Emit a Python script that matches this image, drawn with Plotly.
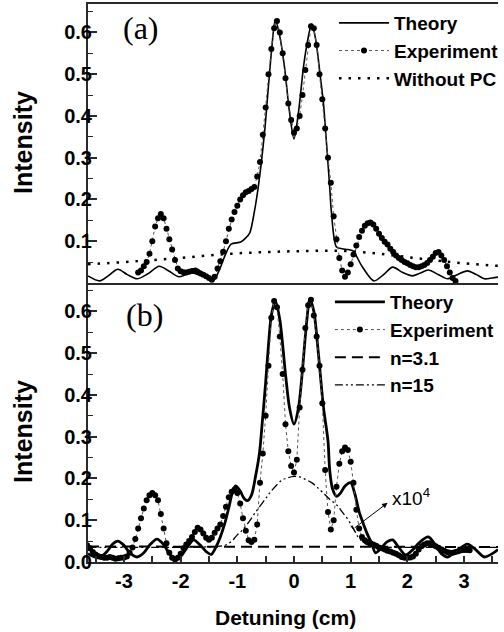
import plotly.graph_objects as go

# ---------------- panel (a) ----------------
theory_a_x = [-3.635, -3.43, -3.27, -3.11, -2.94, -2.77, -2.58, -2.38, -2.2, -2.03,
              -1.88, -1.74, -1.58, -1.43, -1.32, -1.22, -1.11, -0.94, -0.85, -0.78,
              -0.70, -0.63, -0.52, -0.47, -0.40, -0.33, -0.25, -0.17, -0.08, 0.0,
              0.08, 0.17, 0.24, 0.31, 0.38, 0.46, 0.52, 0.56, 0.63, 0.66,
              0.75, 0.85, 0.95, 1.04, 1.2, 1.41, 1.58, 1.74, 1.92, 2.09,
              2.23, 2.37, 2.55, 2.71, 2.88, 3.06, 3.22, 3.36, 3.5, 3.6]
theory_a_y = [0.017, 0.005, 0.018, 0.033, 0.02, 0.01, 0.022, 0.04, 0.028, 0.015,
              0.022, 0.035, 0.02, 0.005, 0.03, 0.065, 0.093, 0.098, 0.108, 0.12,
              0.17, 0.23, 0.36, 0.44, 0.55, 0.63, 0.59, 0.52, 0.41, 0.345,
              0.41, 0.52, 0.58, 0.62, 0.585, 0.50, 0.43, 0.36, 0.23, 0.17,
              0.086, 0.082, 0.08, 0.077, 0.04, 0.005, 0.02, 0.038, 0.025, 0.017,
              0.024, 0.031, 0.02, 0.01, 0.02, 0.029, 0.02, 0.01, 0.012, 0.014]

exp_a_x = [-2.75, -2.70, -2.65, -2.60, -2.55, -2.50, -2.45, -2.40, -2.35, -2.30,
           -2.25, -2.20, -2.15, -2.10, -2.05, -2.00, -1.95, -1.90, -1.85, -1.80,
           -1.75, -1.70, -1.65, -1.60, -1.55, -1.50, -1.45, -1.40, -1.35, -1.30,
           -1.25, -1.20, -1.15, -1.10, -1.05, -1.00, -0.95, -0.90, -0.85, -0.80,
           -0.75, -0.70, -0.65, -0.60, -0.55, -0.50, -0.45, -0.40, -0.35, -0.30,
           -0.25, -0.20, -0.15, -0.10, -0.05, 0.00, 0.05, 0.10, 0.15, 0.20,
           0.25, 0.30, 0.35, 0.40, 0.45, 0.50, 0.55, 0.60, 0.65, 0.70,
           0.75, 0.80, 0.85, 0.90, 0.95, 1.00, 1.05, 1.10, 1.15, 1.20,
           1.25, 1.30, 1.35, 1.40, 1.45, 1.50, 1.55, 1.60, 1.65, 1.70,
           1.75, 1.80, 1.85, 1.90, 1.95, 2.00, 2.05, 2.10, 2.15, 2.20,
           2.25, 2.30, 2.35, 2.40, 2.45, 2.50, 2.55, 2.60, 2.65, 2.70,
           2.75, 2.80, 2.85]
exp_a_y = [0.025, 0.03, 0.04, 0.05, 0.07, 0.10, 0.135, 0.155, 0.165, 0.155,
           0.13, 0.105, 0.08, 0.055, 0.035, 0.028, 0.026, 0.025, 0.027, 0.029,
           0.028, 0.026, 0.023, 0.02, 0.016, 0.012, 0.008, 0.015, 0.035, 0.052,
           0.075, 0.10, 0.13, 0.152, 0.17, 0.185, 0.20, 0.21, 0.217, 0.22,
           0.225, 0.23, 0.255, 0.29, 0.355, 0.42, 0.50, 0.56, 0.61, 0.627,
           0.60, 0.55, 0.49, 0.43, 0.39, 0.36, 0.37, 0.40, 0.45, 0.51,
           0.57, 0.615, 0.61, 0.57, 0.50, 0.44, 0.37, 0.30, 0.24, 0.16,
           0.105, 0.06, 0.03, 0.015, 0.025, 0.045, 0.068, 0.09, 0.11, 0.125,
           0.137, 0.143, 0.145, 0.14, 0.13, 0.118, 0.108, 0.099, 0.092, 0.082,
           0.074, 0.066, 0.06, 0.055, 0.05, 0.047, 0.043, 0.04, 0.038, 0.038,
           0.04, 0.043, 0.048, 0.055, 0.063, 0.072, 0.074, 0.066, 0.055, 0.04,
           0.025, 0.012, 0.005]

nopc_x = [-3.635, -3.0, -2.5, -2.0, -1.5, -1.0, -0.5, 0.0, 0.5, 1.0, 1.5, 2.0, 2.5, 3.0, 3.6]
nopc_y = [0.045, 0.05, 0.055, 0.06, 0.066, 0.071, 0.074, 0.076, 0.077, 0.076, 0.07, 0.062, 0.054, 0.047, 0.041]

# ---------------- panel (b) ----------------
theory_b_x = [-3.635, -3.52, -3.43, -3.3, -3.2, -3.11, -3.0, -2.9, -2.77, -2.65,
              -2.55, -2.42, -2.3, -2.2, -2.07, -1.95, -1.85, -1.77, -1.65, -1.55,
              -1.46, -1.38, -1.3, -1.22, -1.15, -1.08, -1.03, -0.95, -0.88, -0.82,
              -0.75, -0.68, -0.61, -0.56, -0.50, -0.45, -0.40, -0.33, -0.25, -0.15,
              -0.08, 0.0, 0.08, 0.15, 0.22, 0.28, 0.35, 0.43, 0.52, 0.60,
              0.63, 0.68, 0.75, 0.82, 0.90, 1.0, 1.08, 1.15, 1.22, 1.30,
              1.36, 1.44, 1.55, 1.64, 1.74, 1.85, 1.97, 2.1, 2.2, 2.37,
              2.5, 2.6, 2.71, 2.85, 3.06, 3.2, 3.36, 3.5, 3.6]
theory_b_y = [0.02, 0.012, 0.01, 0.025, 0.043, 0.05, 0.04, 0.022, 0.012, 0.022,
              0.04, 0.055, 0.042, 0.02, 0.006, 0.022, 0.042, 0.053, 0.04, 0.025,
              0.018, 0.035, 0.06, 0.093, 0.13, 0.17, 0.182, 0.17, 0.152, 0.147,
              0.16, 0.204, 0.26, 0.334, 0.43, 0.52, 0.59, 0.625, 0.58, 0.45,
              0.37, 0.33, 0.37, 0.46, 0.57, 0.63, 0.60, 0.50, 0.37, 0.29,
              0.22, 0.175, 0.157, 0.165, 0.182, 0.19, 0.16, 0.12, 0.093, 0.065,
              0.048, 0.022, 0.035, 0.048, 0.053, 0.035, 0.017, 0.03, 0.045, 0.06,
              0.04, 0.02, 0.012, 0.025, 0.043, 0.03, 0.012, 0.02, 0.03]

exp_b_x = [-3.65, -3.60, -3.55, -3.50, -3.45, -3.40, -3.35, -3.30, -3.25, -3.20,
           -3.15, -3.10, -3.05, -3.00, -2.95, -2.90, -2.85, -2.80, -2.75, -2.70,
           -2.65, -2.60, -2.55, -2.50, -2.45, -2.40, -2.35, -2.30, -2.25, -2.20,
           -2.15, -2.10, -2.05, -2.00, -1.95, -1.90, -1.85, -1.80, -1.75, -1.70,
           -1.65, -1.60, -1.55, -1.50, -1.45, -1.40, -1.35, -1.30, -1.25, -1.20,
           -1.15, -1.10, -1.05, -1.00, -0.95, -0.90, -0.85, -0.80, -0.75, -0.70,
           -0.65, -0.60, -0.55, -0.50, -0.45, -0.40, -0.35, -0.30, -0.25, -0.20,
           -0.15, -0.10, -0.05, 0.00, 0.05, 0.10, 0.15, 0.20, 0.25, 0.30,
           0.35, 0.40, 0.45, 0.50, 0.55, 0.60, 0.65, 0.70, 0.75, 0.80,
           0.85, 0.90, 0.95, 1.00, 1.05, 1.10, 1.15, 1.20, 1.25, 1.30,
           1.35, 1.40, 1.45, 1.50, 1.55, 1.60, 1.65, 1.70, 1.75, 1.80,
           1.85, 1.90, 1.95, 2.00, 2.05, 2.10, 2.15, 2.20, 2.25, 2.30,
           2.35, 2.40, 2.45, 2.50, 2.55, 2.60, 2.65, 2.70, 2.75, 2.80,
           2.85, 2.90, 2.95, 3.00, 3.05, 3.10]
exp_b_y = [0.04, 0.033, 0.024, 0.018, 0.014, 0.012, 0.01, 0.01, 0.012, 0.01,
           0.008, 0.009, 0.01, 0.011, 0.013, 0.022, 0.035, 0.055, 0.08, 0.105,
           0.128, 0.148, 0.16, 0.165, 0.16, 0.148, 0.115, 0.08, 0.045, 0.022,
           0.01, 0.006, 0.01, 0.02, 0.033, 0.042, 0.05, 0.06, 0.072, 0.082,
           0.078, 0.068, 0.058, 0.053, 0.058, 0.07, 0.08, 0.09, 0.11, 0.132,
           0.155, 0.168, 0.173, 0.165, 0.14, 0.105, 0.075, 0.052, 0.048, 0.053,
           0.09, 0.19, 0.26, 0.35, 0.47, 0.585, 0.625, 0.61, 0.54, 0.45,
           0.33, 0.265, 0.23, 0.214, 0.245, 0.37, 0.46, 0.56, 0.615, 0.628,
           0.59, 0.54, 0.47, 0.38, 0.22, 0.12, 0.078, 0.10, 0.18, 0.235,
           0.265, 0.274, 0.268, 0.24, 0.19, 0.125, 0.08, 0.06, 0.052, 0.048,
           0.045, 0.042, 0.039, 0.035, 0.033, 0.03, 0.027, 0.025, 0.022, 0.02,
           0.016, 0.012, 0.01, 0.01, 0.011, 0.013, 0.02, 0.03, 0.038, 0.042,
           0.045, 0.045, 0.042, 0.038, 0.034, 0.03, 0.027, 0.024, 0.022, 0.022,
           0.024, 0.026, 0.028, 0.029, 0.029, 0.028]

n31_x = [-3.635, -2.0, 0.0, 2.0, 3.6]
n31_y = [0.037, 0.037, 0.037, 0.037, 0.036]

n15_x = [-3.635, -2.5, -1.6, -1.4, -1.22, -1.1, -1.0, -0.9, -0.8, -0.7,
         -0.61, -0.5, -0.43, -0.3, -0.2, -0.1, 0.0, 0.1, 0.2, 0.31,
         0.4, 0.52, 0.63, 0.75, 0.85, 0.96, 1.05, 1.13, 1.22, 1.3,
         1.4, 2.5, 3.6]
n15_y = [0.035, 0.035, 0.036, 0.037, 0.04, 0.05, 0.065, 0.078, 0.095, 0.115,
         0.132, 0.152, 0.165, 0.185, 0.197, 0.202, 0.205, 0.204, 0.198, 0.19,
         0.18, 0.165, 0.15, 0.137, 0.12, 0.10, 0.08, 0.06, 0.048, 0.041,
         0.037, 0.035, 0.035]

x_tick_vals = [-3, -2, -1, 0, 1, 2, 3]
x_tick_labels = ["-3", "-2", "-1", "0", "1", "2", "3"]
y_tick_vals_a = [0.1, 0.2, 0.3, 0.4, 0.5, 0.6]
y_tick_vals_b = [0.0, 0.1, 0.2, 0.3, 0.4, 0.5, 0.6]

X_RANGE = [-3.635, 3.6]
Y_RANGE = [0.0, 0.668]
SANS = "Liberation Sans"
AXIS_COLOR = "#2a2a2a"

fig = go.Figure()

exp_line = dict(color="#555555", width=1, dash="3px,3px")
exp_marker = dict(color="black", size=6, symbol="circle")

# panel (a)
fig.add_trace(go.Scatter(x=theory_a_x, y=theory_a_y, name="Theory", mode="lines",
                         line=dict(color="black", width=1.6, shape="spline", smoothing=0.8),
                         xaxis="x", yaxis="y", legend="legend"))
fig.add_trace(go.Scatter(x=exp_a_x, y=exp_a_y, name="Experiment", mode="lines+markers",
                         line=exp_line, marker=exp_marker,
                         xaxis="x", yaxis="y", legend="legend"))
fig.add_trace(go.Scatter(x=nopc_x, y=nopc_y, name="Without PC", mode="lines",
                         line=dict(color="black", width=2.5, dash="2.5px,7px", shape="spline"),
                         xaxis="x", yaxis="y", legend="legend"))

# panel (b)
fig.add_trace(go.Scatter(x=theory_b_x, y=theory_b_y, name="Theory", mode="lines",
                         line=dict(color="black", width=2.8, shape="spline", smoothing=0.8),
                         xaxis="x2", yaxis="y2", legend="legend2"))
fig.add_trace(go.Scatter(x=exp_b_x, y=exp_b_y, name="Experiment", mode="lines+markers",
                         line=exp_line, marker=exp_marker,
                         xaxis="x2", yaxis="y2", legend="legend2"))
fig.add_trace(go.Scatter(x=n31_x, y=n31_y, name="n=3.1", mode="lines",
                         line=dict(color="black", width=2, dash="11px,6px"),
                         xaxis="x2", yaxis="y2", legend="legend2"))
fig.add_trace(go.Scatter(x=n15_x, y=n15_y, name="n=15", mode="lines",
                         line=dict(color="black", width=1.3, dash="8px,3px,2px,3px,2px,3px",
                                   shape="spline"),
                         xaxis="x2", yaxis="y2", legend="legend2"))

tick_font = dict(family=SANS, size=20, color="black", weight="bold")
legend_font = dict(family=SANS, size=19, color="black", weight="bold")

yaxis_common = dict(range=Y_RANGE, showline=True, linewidth=2, linecolor=AXIS_COLOR,
                    ticks="inside", ticklen=9, tickwidth=1.5, tickcolor=AXIS_COLOR,
                    tickfont=tick_font, showgrid=False, zeroline=False,
                    ticklabelstandoff=-10,
                    minor=dict(ticks="inside", ticklen=5, tickwidth=1.2,
                               tickcolor=AXIS_COLOR, dtick=0.05, tick0=0, showgrid=False))

fig.update_layout(
    width=504, height=632,
    margin=dict(l=88, r=0, t=4, b=70),
    paper_bgcolor="white", plot_bgcolor="white",
    xaxis=dict(domain=[0, 1], anchor="y", range=X_RANGE, showline=True, mirror=True,
               linewidth=2, linecolor=AXIS_COLOR, ticks="", showticklabels=False,
               showgrid=False, zeroline=False, matches="x2"),
    yaxis=dict(domain=[0.5, 1], anchor="x", tickvals=y_tick_vals_a,
               ticktext=[f"{v:.1f}" for v in y_tick_vals_a], **yaxis_common),
    xaxis2=dict(domain=[0, 1], anchor="y2", range=X_RANGE, showline=True,
                linewidth=2, linecolor=AXIS_COLOR, ticks="inside", ticklen=6,
                tickwidth=1.5, tickcolor=AXIS_COLOR, tickfont=tick_font,
                tickvals=x_tick_vals, ticktext=x_tick_labels, ticklabelstandoff=0,
                showgrid=False, zeroline=False,
                minor=dict(ticks="inside", ticklen=6, tickwidth=1.5,
                           tickcolor=AXIS_COLOR, dtick=0.5, tick0=0, showgrid=False)),
    yaxis2=dict(domain=[0, 0.5], anchor="x2", tickvals=y_tick_vals_b,
                ticktext=[f"{v:.1f}" for v in y_tick_vals_b], **yaxis_common),
    legend=dict(x=0.6, y=1.0, xanchor="left", yanchor="top", bgcolor="rgba(0,0,0,0)",
                font=legend_font, itemwidth=50, tracegroupgap=0),
    legend2=dict(x=0.59, y=0.5, xanchor="left", yanchor="top", bgcolor="rgba(0,0,0,0)",
                 font=legend_font, itemwidth=50, tracegroupgap=0),
    showlegend=True,
)

# panel letters
fig.add_annotation(text="(a)", xref="paper", yref="paper", x=0.13, y=0.957,
                   xanchor="center", yanchor="middle", showarrow=False,
                   font=dict(family="Liberation Serif", size=32, color="black"))
fig.add_annotation(text="(b)", xref="paper", yref="paper", x=0.137, y=0.443,
                   xanchor="center", yanchor="middle", showarrow=False,
                   font=dict(family="Liberation Serif", size=32, color="black"))

# axis titles
title_font = dict(family=SANS, size=25, color="black", weight="bold")
for ycen in (0.7527, 0.2348):
    fig.add_annotation(text="Intensity", xref="paper", yref="paper", x=-0.1587, y=ycen,
                       xanchor="center", yanchor="middle", textangle=-90, showarrow=False,
                       font=title_font)
fig.add_annotation(text="Detuning (cm)", xref="paper", yref="paper", x=0.4808, y=-0.099,
                   xanchor="center", yanchor="middle", showarrow=False,
                   font=dict(family=SANS, size=21, color="black", weight="bold"))

# scale marker for the n=15 curve
arrow_tail = (1.043, 0.079)
arrow_head = (1.652, 0.1416)
fig.add_annotation(x=arrow_head[0], y=arrow_head[1], ax=arrow_tail[0], ay=arrow_tail[1],
                   xref="x2", yref="y2", axref="x2", ayref="y2", text="",
                   showarrow=True, arrowhead=2, arrowsize=1.1, arrowwidth=1,
                   arrowcolor="black")
# short cross-bar at the tail of the arrow
px_per_x = 416 / (X_RANGE[1] - X_RANGE[0])
px_per_y = 279 / (Y_RANGE[1] - Y_RANGE[0])
dxp = (arrow_head[0] - arrow_tail[0]) * px_per_x
dyp = (arrow_head[1] - arrow_tail[1]) * px_per_y
norm = (dxp ** 2 + dyp ** 2) ** 0.5
half = 4.0
bx, by = -dyp / norm * half / px_per_x, dxp / norm * half / px_per_y
fig.add_shape(type="line", xref="x2", yref="y2",
              x0=arrow_tail[0] - bx, y0=arrow_tail[1] - by,
              x1=arrow_tail[0] + bx, y1=arrow_tail[1] + by,
              line=dict(color="black", width=1))
fig.add_annotation(text="x10<sup>4</sup>", xref="x2", yref="y2", x=1.70, y=0.156,
                   xanchor="left", yanchor="middle", showarrow=False,
                   font=dict(family=SANS, size=19, color="black"))

fig.write_html("out.html")
